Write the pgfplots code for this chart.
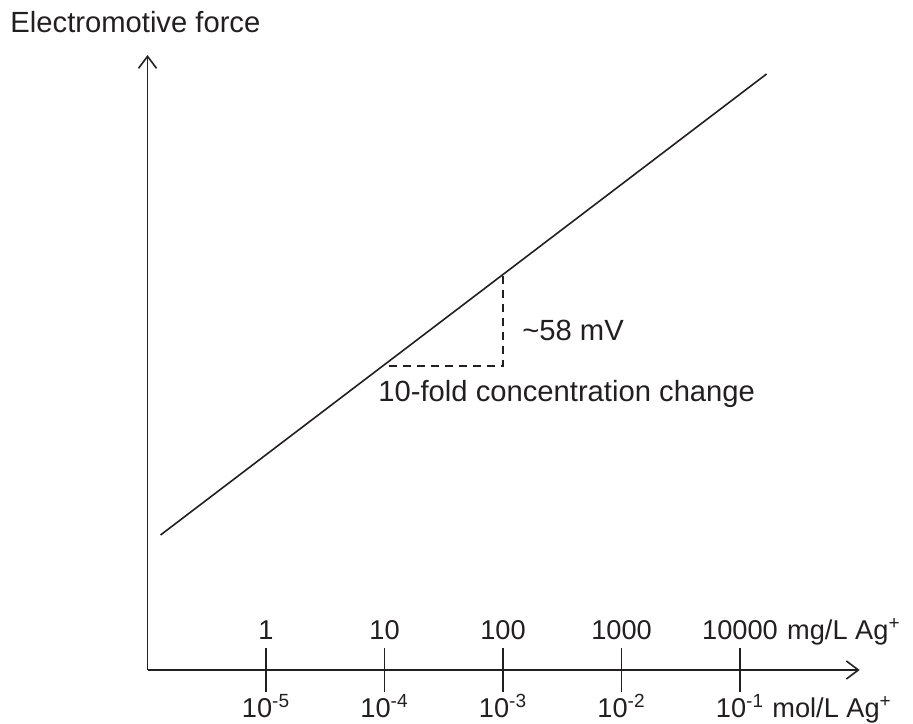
\documentclass[border=0pt]{standalone}
\usepackage{pgfplots}
\pgfplotsset{compat=1.18}
\usepackage{fontspec}
\setmainfont{Liberation Sans}
\usetikzlibrary{arrows.meta}
\definecolor{ink}{HTML}{231F20}
\tikzset{
  lab/.style={font=\fontsize{13.6}{16}\selectfont, text=ink, inner sep=0pt},
  ann/.style={anchor=west, font=\fontsize{14.6}{17}\selectfont, text=ink, inner sep=0pt},
}
\begin{document}
\begin{tikzpicture}
\begin{axis}[
  x=59.25pt, y=0.5pt,
  xmin=-6, xmax=0.01, ymin=0, ymax=615,
  axis lines=left,
  axis line style={ink, line width=0.9pt},
  x axis line style={-{Straight Barb[length=6pt,width=9pt,line width=0.8pt]}},
  y axis line style={-{Straight Barb[length=6pt,width=9pt,line width=0.8pt]}},
  xtick={-5,-4,-3,-2,-1}, xticklabels={},
  ytick=\empty,
  major tick length=22pt, tick align=center,
  tick style={ink, line width=0.8pt},
  clip=false,
]
\addplot[ink, line width=0.8pt] coordinates {(-5.89,135) (-0.776,596)};
\addplot[ink, line width=0.7pt, dashed, dash pattern=on 4pt off 3pt] coordinates {(-3.96,304) (-3,304) (-3,395)};

\path (axis cs:-7.245,-54) rectangle (axis cs:0.46,670);

\node[ann] at (axis cs:-7.16,648) {Electromotive force};
\node[ann] at (axis cs:-2.84,340) {\textasciitilde58 mV};
\node[ann] at (axis cs:-4.055,276) {10-fold concentration change};

% top labels (mg/L)
\node[lab, anchor=base] at (axis cs:-5,30) {1};
\node[lab, anchor=base] at (axis cs:-4,30) {10};
\node[lab, anchor=base] at (axis cs:-3,30) {100};
\node[lab, anchor=base] at (axis cs:-2,30) {1000};
\node[lab, anchor=base] at (axis cs:-1,30) {10000};
\node[lab, anchor=base west] at (axis cs:-0.605,30) {mg/L Ag\textsuperscript{+}};

% bottom labels (mol/L)
\node[lab, anchor=base] at (axis cs:-5,-48) {10\textsuperscript{-5}};
\node[lab, anchor=base] at (axis cs:-4,-48) {10\textsuperscript{-4}};
\node[lab, anchor=base] at (axis cs:-3,-48) {10\textsuperscript{-3}};
\node[lab, anchor=base] at (axis cs:-2,-48) {10\textsuperscript{-2}};
\node[lab, anchor=base] at (axis cs:-1,-48) {10\textsuperscript{-1}};
\node[lab, anchor=base west] at (axis cs:-0.73,-48) {mol/L Ag\textsuperscript{+}};
\end{axis}
\end{tikzpicture}
\end{document}
